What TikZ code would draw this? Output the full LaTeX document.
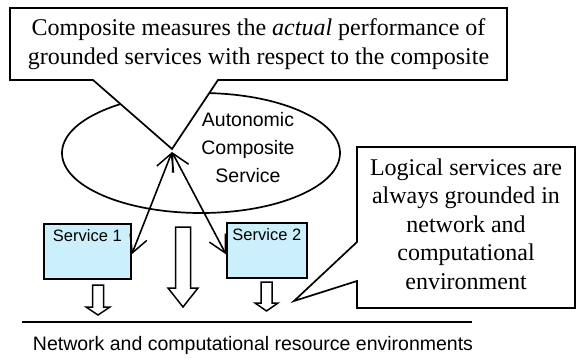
\documentclass[tikz,border=0pt]{standalone}
\usepackage{fontspec}
\setmainfont{Liberation Serif}
\setsansfont{Liberation Sans}
\usetikzlibrary{arrows.meta}

\tikzset{
  outline/.style={draw=black, line width=1.7pt, line join=miter},
  callout/.style={outline, fill=white},
  svcbox/.style={outline, fill=cyan!20, minimum width=87pt, minimum height=55pt,
                 inner sep=0pt, anchor=north west},
  svclabel/.style={font=\sffamily\fontsize{16.5}{19}\selectfont, anchor=north, inner sep=0pt},
  serifnote/.style={font=\fontsize{24}{28.5}\selectfont, align=center, inner sep=0pt},
  sansnote/.style={font=\sffamily\fontsize{19.5}{28}\selectfont, align=center, inner sep=0pt},
  barb/.tip={Straight Barb[length=17pt,width=18pt,line width=1.5pt]},
  biarrow/.style={line width=1.6pt, barb-barb},
  blockarrow/.style={outline, line width=1.5pt, fill=white},
}

\begin{document}
\begin{tikzpicture}[x=1pt, y=-1pt]
  \useasboundingbox (0,0) rectangle (577,358);

  % composite service ellipse
  \draw[outline] (201,153) ellipse [x radius=139, y radius=60];
  \node[sansnote] (acs) at (248,148) {Autonomic\\Composite\\Service};

  % top callout with its pointer into the ellipse
  \draw[callout] (10,8) -- (507,8) -- (507,80) -- (218,80) -- (172,149)
                 -- (93,80) -- (10,80) -- cycle;
  \node[serifnote] (measure) at (258.5,44)
    {Composite measures the \textit{actual} performance of\\
     grounded services with respect to the composite};
  \coordinate (apex) at (172,152);

  % grounded services
  \node[svcbox] (s1) at (43,223) {};
  \node[svclabel] (s1t) at ([yshift=-6pt]s1.north) {Service 1};
  \node[svcbox, minimum width=80pt] (s2) at (226,222) {};
  \node[svclabel] (s2t) at ([yshift=-6pt]s2.north) {Service 2};

  % measurement arrows
  \draw[biarrow] (apex) -- ([yshift=-3pt]s1.east);
  \draw[biarrow] (apex) -- ([yshift=-4pt]s2.west);

  % hollow downward arrows
  \draw[blockarrow] (92.5,285) -- (103.5,285) -- (103.5,307) -- (110,307) -- (98,315)
                    -- (86,307) -- (92.5,307) -- cycle;
  \draw[blockarrow] (175.5,227) -- (190.5,227) -- (190.5,288) -- (198,288) -- (183,307)
                    -- (168,288) -- (175.5,288) -- cycle;
  \draw[blockarrow] (261,282) -- (272,282) -- (272,303) -- (278,303) -- (266.5,311)
                    -- (255,303) -- (261,303) -- cycle;

  % resource layer
  \coordinate (layerL) at (22,322);
  \coordinate (layerR) at (472,322);
  \draw[line width=1.7pt] (layerL) -- (layerR);
  \node[sansnote] (layer) at (253,345) {Network and computational resource environments};

  % right callout
  \draw[callout] (357,147) -- (575,147) -- (575,308) -- (357,308) -- (357,281)
                 -- (294,301) -- (357,242) -- cycle;
  \node[serifnote] (logical) at (466,224)
    {Logical services are\\always grounded in\\network and\\computational\\environment};
\end{tikzpicture}
\end{document}
